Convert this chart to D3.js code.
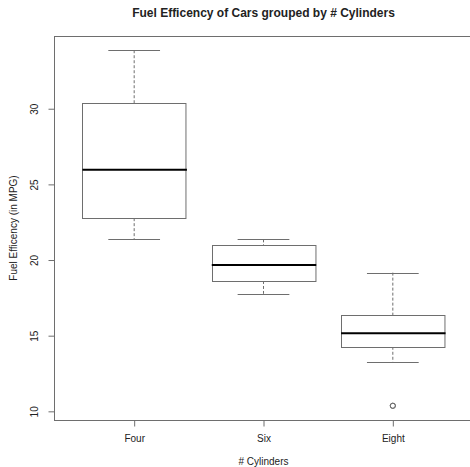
<!DOCTYPE html>
<html>
  <head>
    <meta charset="utf-8">
    <title>Fuel Efficency boxplot</title>
    <script src="https://d3js.org/d3.v7.min.js"></script>
    <style>
      body { margin: 0; background: #fff; }
      svg { font-family: "Liberation Sans", Arial, sans-serif; }
    </style>
  </head>
  <body>
<script>
// mtcars mpg grouped by cyl (five-number summaries)
var groups = ["Four", "Six", "Eight"];
var whiskerLow = [21.4, 17.8, 13.3];
var hingeLow = [22.8, 18.65, 14.3];
var medians = [26.0, 19.7, 15.2];
var hingeHigh = [30.4, 21.0, 16.4];
var whiskerHigh = [33.9, 21.4, 19.2];
var outliers = [{ group: "Eight", value: 10.4 }, { group: "Eight", value: 10.4 }];
var yTicks = [10, 15, 20, 25, 30];

var width = 470,
    height = 467,
    margin = { top: 36, right: -3, bottom: 47, left: 54 },
    lineColor = "#6e6e6e",
    textColor = "#222";

var svg = d3.select("body").append("svg")
  .attr("width", width)
  .attr("height", height);

var plotW = width - margin.left - margin.right,
    plotH = height - margin.top - margin.bottom;

// R style: data range padded by 4% on each side
var x = d3.scaleLinear()
  .domain([0.38, 3.62])
  .range([margin.left, margin.left + plotW]);

var y = d3.scaleLinear()
  .domain([9.46, 34.84])
  .range([margin.top + plotH, margin.top]);

var step = x(2) - x(1),
    boxW = step * 0.8,
    capW = boxW * 0.5;

var data = groups.map(function(g, i) {
  return { name: g, i: i + 1, lo: whiskerLow[i], q1: hingeLow[i],
           med: medians[i], q3: hingeHigh[i], hi: whiskerHigh[i] };
});

// frame
svg.append("rect")
  .attr("x", margin.left + 0.5)
  .attr("y", margin.top + 0.5)
  .attr("width", plotW)
  .attr("height", plotH)
  .attr("fill", "none")
  .attr("stroke", lineColor);

// axes
var yAxis = svg.append("g")
  .attr("transform", "translate(" + (margin.left + 0.5) + ",0)")
  .call(d3.axisLeft(y).tickValues(yTicks).tickSize(6).tickPadding(3));
yAxis.select(".domain").remove();
yAxis.selectAll("line").attr("stroke", lineColor);
yAxis.selectAll("text")
  .attr("fill", textColor)
  .attr("font-size", 10)
  .attr("font-family", null)
  .attr("transform", function(d) { return "rotate(-90," + (-15) + "," + y(d) + ")"; })
  .attr("x", -15)
  .attr("y", function(d) { return y(d); })
  .attr("dy", "-0.1em")
  .attr("text-anchor", "middle");
yAxis.selectAll(".tick").attr("transform", null);
yAxis.selectAll(".tick line")
  .attr("y1", function(d) { return y(d); })
  .attr("y2", function(d) { return y(d); });

var xAxis = svg.append("g")
  .attr("transform", "translate(0," + (margin.top + plotH + 0.5) + ")")
  .call(d3.axisBottom(x).tickValues([1, 2, 3])
    .tickFormat(function(d) { return groups[d - 1]; })
    .tickSize(6).tickPadding(8));
xAxis.select(".domain").remove();
xAxis.selectAll("line").attr("stroke", lineColor);
xAxis.selectAll("text")
  .attr("fill", textColor)
  .attr("font-size", 10)
  .attr("font-family", null);

// boxes
var box = svg.append("g").selectAll("g")
  .data(data)
  .join("g");

box.append("line")
  .attr("x1", function(d) { return x(d.i); })
  .attr("x2", function(d) { return x(d.i); })
  .attr("y1", function(d) { return y(d.hi); })
  .attr("y2", function(d) { return y(d.q3); })
  .attr("stroke", lineColor)
  .attr("stroke-dasharray", "3,2");

box.append("line")
  .attr("x1", function(d) { return x(d.i); })
  .attr("x2", function(d) { return x(d.i); })
  .attr("y1", function(d) { return y(d.q1); })
  .attr("y2", function(d) { return y(d.lo); })
  .attr("stroke", lineColor)
  .attr("stroke-dasharray", "3,2");

box.selectAll(".cap")
  .data(function(d) { return [{ i: d.i, v: d.lo }, { i: d.i, v: d.hi }]; })
  .join("line")
  .attr("class", "cap")
  .attr("x1", function(d) { return x(d.i) - capW / 2; })
  .attr("x2", function(d) { return x(d.i) + capW / 2; })
  .attr("y1", function(d) { return Math.round(y(d.v)) + 0.5; })
  .attr("y2", function(d) { return Math.round(y(d.v)) + 0.5; })
  .attr("stroke", lineColor);

box.append("rect")
  .attr("x", function(d) { return Math.round(x(d.i) - boxW / 2) + 0.5; })
  .attr("y", function(d) { return Math.round(y(d.q3)) + 0.5; })
  .attr("width", boxW)
  .attr("height", function(d) { return Math.round(y(d.q1)) - Math.round(y(d.q3)); })
  .attr("fill", "#fff")
  .attr("stroke", lineColor);

box.append("line")
  .attr("x1", function(d) { return x(d.i) - boxW / 2; })
  .attr("x2", function(d) { return x(d.i) + boxW / 2 + 1; })
  .attr("y1", function(d) { return y(d.med); })
  .attr("y2", function(d) { return y(d.med); })
  .attr("stroke", "#000")
  .attr("stroke-width", 2);

svg.append("g").selectAll("circle")
  .data(outliers)
  .join("circle")
  .attr("cx", function(d) { return x(groups.indexOf(d.group) + 1); })
  .attr("cy", function(d) { return y(d.value); })
  .attr("r", 2.6)
  .attr("fill", "none")
  .attr("stroke", lineColor);

// titles
var midX = margin.left + plotW / 2;
svg.append("text")
  .attr("x", midX)
  .attr("y", 17)
  .attr("text-anchor", "middle")
  .attr("font-size", 12)
  .attr("font-weight", "bold")
  .attr("fill", textColor)
  .text("Fuel Efficency of Cars grouped by # Cylinders");

svg.append("text")
  .attr("x", midX)
  .attr("y", 465)
  .attr("text-anchor", "middle")
  .attr("font-size", 10)
  .attr("fill", textColor)
  .text("# Cylinders");

svg.append("text")
  .attr("transform", "translate(17," + (margin.top + plotH / 2) + ") rotate(-90)")
  .attr("text-anchor", "middle")
  .attr("font-size", 10)
  .attr("fill", textColor)
  .text("Fuel Efficency (in MPG)");
</script>
  </body>
</html>
